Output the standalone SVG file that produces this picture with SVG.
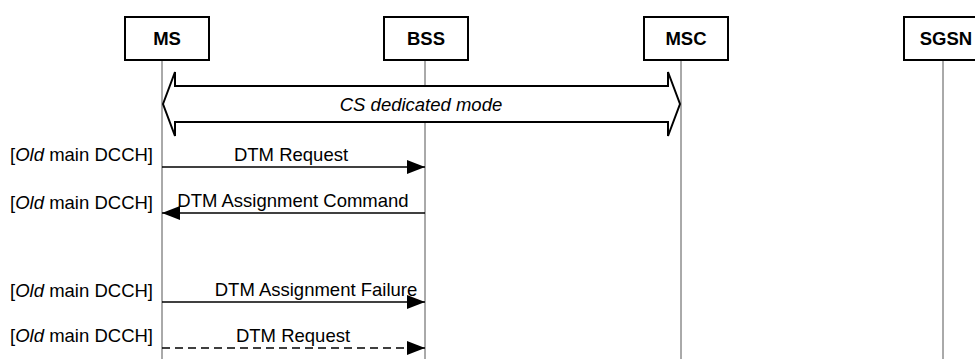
<svg xmlns="http://www.w3.org/2000/svg" width="975" height="359" viewBox="0 0 975 359">
<style>
.box{fill:#fff;stroke:#000;stroke-width:2}
.name{font-family:"Liberation Sans",Arial,sans-serif;font-weight:bold;font-size:18.5px;text-anchor:middle}
.life{stroke:#555;stroke-width:1}
.msg{stroke:#000;stroke-width:1.5;fill:none}
.lbl{font-family:"Liberation Sans",Arial,sans-serif;font-size:18.5px;text-anchor:middle}
.ch{font-family:"Liberation Sans",Arial,sans-serif;font-size:18.5px;text-anchor:end}
</style>
<defs>
<marker id="ah" markerUnits="userSpaceOnUse" markerWidth="18" markerHeight="14" refX="18" refY="7" orient="auto">
<path d="M0,0 L18,7 L0,14 Z" fill="#000"/>
</marker>
</defs>
<g id="lifelines">
<line class="life" x1="162" y1="60" x2="162" y2="359"/>
<line class="life" x1="425" y1="60" x2="425" y2="359"/>
<line class="life" x1="681" y1="60" x2="681" y2="359"/>
<line class="life" x1="943" y1="60" x2="943" y2="359"/>
</g>
<g id="MS"><rect class="box" x="125" y="17" width="84" height="43"/><text class="name" x="167" y="45">MS</text></g>
<g id="BSS"><rect class="box" x="384" y="17" width="84" height="43"/><text class="name" x="426" y="45">BSS</text></g>
<g id="MSC"><rect class="box" x="644" y="17" width="84" height="43"/><text class="name" x="686" y="45">MSC</text></g>
<g id="SGSN"><rect class="box" x="904" y="17" width="84" height="43"/><text class="name" x="946" y="45">SGSN</text></g>
<g id="cs-mode">
<path d="M163,104 L175,72 L175,86 L668,86 L668,72 L680,104 L668,136 L668,122 L175,122 L175,136 Z" fill="#fff" stroke="#000" stroke-width="2" stroke-linejoin="miter"/>
<text class="lbl" x="421" y="111" font-style="italic">CS dedicated mode</text>
</g>
<g id="connectors">
<line class="msg" x1="162" y1="167" x2="425" y2="167" marker-end="url(#ah)"/>
<line class="msg" x1="425" y1="213" x2="162" y2="213" marker-end="url(#ah)"/>
<line class="msg" x1="162" y1="302" x2="425" y2="302" marker-end="url(#ah)"/>
<line class="msg" x1="162" y1="348" x2="425" y2="348" stroke-dasharray="8,5" marker-end="url(#ah)"/>
</g>
<g id="labels">
<text class="lbl" x="291" y="161">DTM Request</text>
<text class="lbl" x="293" y="207">DTM Assignment Command</text>
<text class="lbl" x="316" y="296">DTM Assignment Failure</text>
<text class="lbl" x="293" y="342">DTM Request</text>
<text class="ch" x="153" y="161">[<tspan font-style="italic">Old</tspan> main DCCH]</text>
<text class="ch" x="153" y="209">[<tspan font-style="italic">Old</tspan> main DCCH]</text>
<text class="ch" x="153" y="297">[<tspan font-style="italic">Old</tspan> main DCCH]</text>
<text class="ch" x="153" y="342">[<tspan font-style="italic">Old</tspan> main DCCH]</text>
</g>
</svg>
